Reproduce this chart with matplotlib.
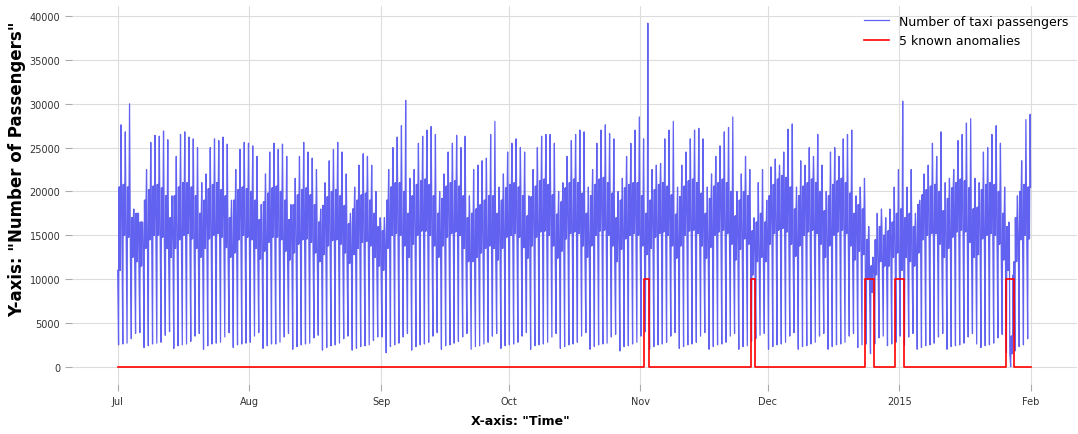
import matplotlib
matplotlib.use("Agg")
import matplotlib.pyplot as plt
import numpy as np
import pandas as pd

# ─── Data (values in thousands of passengers) ────────────────────────────────

start_day = "2014-07-01"

peak = [
    # Jul
    27.6, 26.8, 30.0, 18.0, 17.5, 16.5, 22.5, 25.6, 26.4, 26.3, 26.9, 25.9, 19.5, 24.0, 26.5, 26.8,
    26.2, 26.0, 25.0, 21.0, 22.0, 25.0, 26.0, 25.8, 26.2, 25.4, 19.0, 22.5, 24.8, 25.6, 25.5,
    # Aug
    25.2, 24.0, 18.5, 22.0, 24.5, 25.5, 24.8, 25.4, 24.0, 18.5, 21.5, 24.0, 25.6, 24.5, 23.8, 22.5,
    18.0, 21.0, 23.5, 24.8, 25.6, 24.5, 22.0, 17.5, 20.5, 23.0, 24.3, 24.0, 23.0, 20.0, 17.0,
    # Sep
    17.0, 22.5, 25.0, 26.2, 27.5, 30.4, 21.5, 22.5, 25.5, 26.3, 27.0, 27.4, 26.5, 20.0, 22.0,
    24.5, 25.5, 26.4, 25.0, 26.3, 19.5, 22.5, 23.0, 23.5, 23.8, 26.5, 28.0, 20.5, 22.0, 24.5,
    # Oct
    25.5, 26.0, 25.0, 24.5, 19.5, 22.5, 25.0, 26.3, 26.5, 26.5, 25.5, 20.0, 21.0, 24.0, 25.8, 26.5,
    27.0, 26.8, 20.5, 22.5, 25.5, 27.0, 27.6, 26.6, 26.0, 20.0, 21.5, 24.0, 25.5, 27.0, 28.5,
    # Nov
    26.0, 39.2, 22.5, 23.0, 23.2, 26.0, 27.0, 28.0, 20.5, 23.0, 24.5, 26.0, 27.0, 27.2, 26.0,
    20.5, 22.0, 24.0, 25.2, 26.8, 27.3, 28.5, 20.0, 22.0, 24.0, 22.5, 17.0, 21.0, 22.5, 19.0,
    # Dec
    22.8, 23.7, 23.0, 24.5, 27.1, 27.7, 20.5, 23.5, 23.0, 25.0, 24.0, 26.5, 23.0, 20.0, 24.5, 25.0,
    24.0, 26.0, 26.5, 27.0, 19.5, 20.5, 21.5, 16.0, 12.5, 17.5, 18.0, 17.0, 18.0, 20.5, 22.5,
    # Jan
    30.3, 20.5, 22.5, 17.5, 19.0, 22.0, 23.0, 25.5, 24.0, 26.8, 21.0, 21.5, 22.5, 25.8, 26.5, 27.8,
    28.3, 21.5, 21.0, 24.5, 25.0, 26.5, 27.5, 25.5, 20.5, 16.5, 10.5, 19.5, 23.5, 28.2, 28.8,
]

trough = [
    2.5, 2.6, 2.7, 3.2, 3.8, 3.9, 2.2, 2.4, 2.6, 2.7, 2.8, 3.6, 4.0, 2.1, 2.4, 2.5,
    2.6, 2.9, 3.5, 3.8, 2.0, 2.4, 2.6, 2.7, 2.8, 3.4, 3.9, 2.2, 2.5, 2.6, 2.7,
    2.8, 3.5, 3.9, 2.1, 2.4, 2.6, 2.6, 2.8, 3.4, 3.8, 2.0, 2.3, 2.5, 2.6, 2.7, 3.3,
    3.6, 1.9, 2.2, 2.4, 2.5, 2.7, 3.2, 3.5, 1.9, 2.1, 2.3, 2.4, 2.5, 3.0, 3.4,
    3.4, 1.6, 2.3, 2.5, 2.7, 3.4, 3.8, 1.9, 2.3, 2.5, 2.6, 2.8, 3.5, 3.9, 2.0,
    2.4, 2.5, 2.7, 2.9, 3.4, 3.8, 2.0, 2.3, 2.4, 2.6, 2.8, 3.5, 3.8, 2.1, 2.4,
    2.5, 2.6, 2.8, 3.5, 3.9, 2.0, 2.4, 2.5, 2.6, 2.8, 3.4, 3.8, 2.1, 2.3, 2.5, 2.6,
    2.8, 3.5, 3.9, 2.0, 2.3, 2.5, 2.6, 2.7, 3.4, 3.7, 1.8, 2.3, 2.4, 2.6, 2.8,
    3.5, 4.0, 2.0, 2.3, 2.5, 2.6, 2.8, 3.5, 3.9, 2.1, 2.3, 2.5, 2.6, 2.8, 3.5,
    3.9, 2.0, 2.3, 2.5, 2.6, 2.8, 3.5, 3.8, 2.0, 2.3, 2.4, 2.9, 3.2, 3.6, 3.8,
    2.0, 2.3, 2.5, 2.6, 2.8, 3.5, 3.9, 2.0, 2.3, 2.4, 2.6, 2.8, 3.5, 3.8, 2.0, 2.3,
    2.5, 2.6, 2.8, 3.5, 3.8, 2.2, 2.5, 2.6, 1.5, 2.6, 3.3, 3.5, 2.4, 2.6, 2.8,
    3.5, 2.4, 3.4, 3.8, 2.0, 2.2, 2.4, 2.5, 2.7, 3.4, 3.8, 2.0, 2.3, 2.4, 2.5, 2.7,
    3.4, 3.8, 2.6, 2.2, 2.4, 2.5, 2.7, 3.3, 3.7, 1.6, 0.0, 1.8, 2.3, 2.5, 3.2,
]

day_hi = [
    20.5, 20.8, 20.5, 17.0, 17.5, 16.5, 19.0, 20.2, 20.6, 20.8, 20.4, 19.5, 17.0, 19.5, 20.5, 21.0,
    21.0, 20.5, 19.5, 17.5, 19.0, 20.3, 20.8, 21.0, 20.2, 19.5, 17.0, 19.0, 20.2, 20.5, 20.3,
    20.0, 19.0, 16.8, 18.8, 19.8, 20.4, 20.6, 20.0, 19.0, 16.8, 18.5, 19.6, 20.2, 20.4, 19.6, 18.5,
    16.5, 18.4, 19.4, 20.0, 20.2, 19.5, 18.4, 16.3, 18.0, 19.0, 19.6, 19.8, 19.0, 17.5, 16.0,
    15.5, 19.0, 20.5, 21.0, 21.0, 20.0, 17.5, 19.5, 20.8, 21.2, 21.4, 20.8, 19.5, 17.5, 19.2,
    20.6, 21.0, 21.2, 20.6, 19.5, 17.0, 17.5, 18.0, 18.5, 19.0, 19.5, 19.5, 17.5, 19.0, 20.4,
    20.8, 21.0, 20.5, 19.5, 17.2, 19.4, 20.6, 21.2, 21.4, 20.8, 19.6, 17.4, 18.8, 20.4, 21.0, 21.4,
    21.0, 19.8, 17.5, 19.5, 20.8, 21.4, 21.6, 21.0, 19.8, 17.0, 19.0, 20.4, 20.8, 21.0, 21.0,
    19.5, 17.5, 19.0, 20.2, 20.8, 21.0, 20.6, 19.6, 17.4, 19.4, 20.6, 21.2, 21.4, 21.0, 19.8,
    17.5, 19.2, 20.6, 21.0, 21.4, 21.0, 20.0, 17.2, 19.0, 20.0, 19.5, 15.5, 16.5, 17.5, 16.5,
    19.5, 20.8, 21.4, 21.8, 21.6, 20.5, 18.0, 19.5, 20.6, 21.0, 21.4, 21.0, 20.0, 17.8, 19.5, 20.8,
    21.2, 21.5, 21.0, 19.8, 17.5, 18.5, 18.0, 14.5, 11.5, 14.5, 16.0, 15.0, 15.5, 16.5, 17.5,
    18.0, 17.0, 17.5, 16.0, 18.5, 19.6, 20.2, 20.6, 20.8, 20.0, 17.8, 19.2, 20.4, 21.0, 21.4, 21.2,
    20.4, 18.0, 18.2, 20.2, 20.8, 21.0, 20.8, 20.0, 17.5, 16.0, 3.5, 17.0, 20.0, 20.8, 20.5,
]

day_lo = [
    11.0, 15.0, 14.8, 12.5, 12.0, 11.5, 13.5, 14.5, 15.0, 15.0, 14.8, 13.5, 12.5, 13.5, 14.5, 15.0,
    15.2, 14.6, 13.5, 12.5, 13.5, 14.6, 15.0, 15.2, 14.8, 13.6, 12.5, 13.0, 14.5, 15.0, 14.8,
    14.5, 13.5, 12.3, 13.2, 14.2, 14.8, 14.8, 14.5, 13.2, 12.2, 13.0, 14.0, 14.5, 14.6, 14.2, 13.0,
    12.0, 12.8, 13.8, 14.4, 14.5, 14.0, 13.0, 11.8, 12.8, 13.5, 14.2, 14.3, 13.8, 12.5, 11.5,
    11.0, 13.5, 15.0, 15.2, 15.0, 13.8, 12.5, 14.0, 15.0, 15.5, 15.5, 15.0, 13.8, 12.5, 13.8,
    14.8, 15.2, 15.4, 15.0, 13.5, 12.0, 12.0, 12.5, 13.0, 13.5, 13.8, 13.5, 12.2, 13.5, 14.8,
    15.0, 15.2, 14.8, 13.6, 12.4, 13.8, 14.8, 15.4, 15.5, 15.0, 13.8, 12.4, 13.2, 14.6, 15.2, 15.4,
    15.2, 13.8, 12.5, 13.8, 15.0, 15.5, 15.6, 15.0, 13.8, 12.0, 13.4, 14.6, 15.0, 15.2, 15.0,
    13.8, 12.8, 13.5, 14.8, 15.2, 15.4, 15.0, 13.8, 12.4, 13.8, 15.0, 15.5, 15.6, 15.2, 13.8,
    12.4, 13.6, 15.0, 15.4, 15.6, 15.2, 14.0, 12.2, 13.4, 14.6, 14.0, 10.5, 12.0, 12.5, 12.0,
    14.0, 15.2, 15.6, 15.8, 15.4, 14.0, 12.6, 13.8, 15.0, 15.4, 15.6, 15.2, 14.0, 12.5, 13.8, 15.0,
    15.4, 15.6, 15.2, 13.8, 12.2, 13.2, 12.8, 10.0, 8.5, 10.5, 12.0, 11.5, 11.5, 12.5, 13.0,
    11.0, 12.5, 12.0, 11.5, 13.0, 14.5, 15.0, 15.2, 15.2, 14.0, 12.5, 13.5, 14.8, 15.4, 15.6, 15.4,
    14.2, 12.5, 12.8, 14.6, 15.0, 15.2, 15.0, 14.0, 12.2, 11.0, 1.5, 12.0, 14.5, 15.0, 14.6,
]

# known anomaly windows (start inclusive, end exclusive)
anomaly_start = ["2014-11-02", "2014-11-27", "2014-12-24", "2014-12-31", "2015-01-26"]
anomaly_end = ["2014-11-03", "2014-11-28", "2014-12-26", "2015-01-02", "2015-01-28"]
anomaly_level = 10000

month_ticks = ["2014-07-01", "2014-08-01", "2014-09-01", "2014-10-01",
               "2014-11-01", "2014-12-01", "2015-01-01", "2015-02-01"]
month_labels = ["Jul", "Aug", "Sep", "Oct", "Nov", "Dec", "2015", "Feb"]

# ─── Build series ────────────────────────────────────────────────────────────

days = pd.date_range(start_day, periods=len(peak), freq="D")
# daily shape: night level, early-morning trough, daytime back-and-forth, evening peak
hours = np.array([0, 5, 7.5, 9, 10.5, 12, 13.5, 15, 16.5, 19, 21.5])
levels = np.column_stack([day_lo, trough, day_hi, day_lo, day_hi, day_lo,
                          day_hi, day_lo, day_hi, peak, day_hi]) * 1000

times = (days.values[:, None] + (hours * 3600e9).astype("timedelta64[ns]")[None, :]).ravel()
passengers = levels.ravel()

anom_days = pd.date_range(start_day, "2015-02-01", freq="D")
anom = pd.Series(0, index=anom_days)
for s, e in zip(anomaly_start, anomaly_end):
    anom[(anom.index >= s) & (anom.index < e)] = anomaly_level

# ─── Plot ────────────────────────────────────────────────────────────────────

plt.rcParams.update({
    "font.family": "DejaVu Sans",
    "axes.spines.top": False,
    "axes.spines.right": False,
    "axes.spines.left": False,
    "axes.spines.bottom": False,
})

fig = plt.figure(figsize=(10.78, 4.35), dpi=100)
ax = fig.add_axes([0.0668, 0.115, 0.932, 0.869])

ax.plot(times, passengers, color="#6262f0", lw=0.9, label="Number of taxi passengers")
ax.plot(anom.index, anom.values, color="red", lw=1.2, drawstyle="steps-post",
        label="5 known anomalies")

ax.set_ylim(-1960, 41160)
ax.set_yticks(np.arange(0, 40001, 5000))
ax.set_xticks(pd.to_datetime(month_ticks))
ax.set_xticklabels(month_labels)

ax.grid(True, color="#dddddd", lw=0.8)
ax.set_axisbelow(True)
ax.tick_params(axis="both", colors="#aaaaaa", labelcolor="#333333", labelsize=7, length=5)

ax.set_xlabel('X-axis: "Time"', fontsize=9, fontweight="bold")
ax.set_ylabel('Y-axis: "Number of Passengers"', fontsize=12, fontweight="bold")
ax.xaxis.set_label_coords((521 - 72) / 1005, -0.08)
ax.yaxis.set_label_coords(-0.046, 1 - (169 - 7) / 378)

ax.legend(loc="upper right", frameon=False, fontsize=9, borderaxespad=0.3)

fig.savefig("out.png", dpi=100)
